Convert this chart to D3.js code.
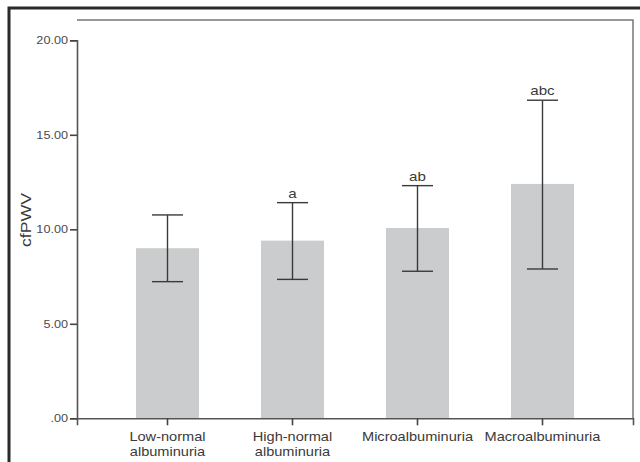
<!DOCTYPE html>
<html><head><meta charset="utf-8">
<script src="https://cdn.jsdelivr.net/npm/d3@7"></script>
<style>
html,body{margin:0;padding:0;background:#fff;}
svg{display:block;}
text{font-family:"Liberation Sans",Arial,sans-serif;}
</style></head>
<body>
<svg id="chart" width="640" height="462"></svg>
<script>
const categories = [["Low-normal","albuminuria"],["High-normal","albuminuria"],["Microalbuminuria"],["Macroalbuminuria"]];
const catKeys = ["Low-normal albuminuria","High-normal albuminuria","Microalbuminuria","Macroalbuminuria"];
const means = [9.00, 9.40, 10.07, 12.40];
const upper = [10.76, 11.41, 12.31, 16.83];
const lower = [7.23, 7.35, 7.78, 7.90];
const sigLabels = ["", "a", "ab", "abc"];
const yTicks = [0, 5, 10, 15, 20];
const yTickLabels = [".00", "5.00", "10.00", "15.00", "20.00"];
const yLabel = "cfPWV";

const svg = d3.select("#chart");
const L = 77, R = 633, T = 20, B = 418.3;
function widen(f){
  return sel => sel.each(function(){
    const w = this.getComputedTextLength();
    if (w>0) d3.select(this).attr("textLength", w*f).attr("lengthAdjust","spacingAndGlyphs");
  });
}

// outer frame
svg.append("path").attr("d", `M9,470 V8 H650`).attr("fill","none").attr("stroke","#2a2a2a").attr("stroke-width",3);

const y = d3.scaleLinear().domain([0,20]).range([B, 40.3]);
const x = d3.scaleBand().domain(catKeys).range([L, R]).paddingInner(0.496).paddingOuter(0.472);

// plot frame top & right
svg.append("path").attr("d", `M${L},${T} H${R} V${B}`).attr("fill","none").attr("stroke","#777").attr("stroke-width",1.5);

// bars
svg.append("g").selectAll("rect").data(means).join("rect")
  .attr("x",(d,i)=>x(catKeys[i])).attr("width",x.bandwidth())
  .attr("y",d=>y(d)).attr("height",d=>B-y(d))
  .attr("fill","#cbcccd");

// error bars
const eb = svg.append("g").attr("stroke","#3a3a3a").attr("stroke-width",1.4);
const cx = i => x(catKeys[i]) + x.bandwidth()/2;
const capW = 15.5;
means.forEach((m,i)=>{
  eb.append("line").attr("x1",cx(i)).attr("x2",cx(i)).attr("y1",y(upper[i])).attr("y2",y(lower[i]));
  eb.append("line").attr("x1",cx(i)-capW).attr("x2",cx(i)+capW).attr("y1",y(upper[i])).attr("y2",y(upper[i]));
  eb.append("line").attr("x1",cx(i)-capW).attr("x2",cx(i)+capW).attr("y1",y(lower[i])).attr("y2",y(lower[i]));
});

// significance labels
svg.append("g").selectAll("text").data(sigLabels).join("text")
  .attr("x",(d,i)=>cx(i)).attr("y",(d,i)=>y(upper[i])-5)
  .attr("text-anchor","middle").attr("font-size",13.5).attr("fill","#3a3a3a")
  .text(d=>d).call(widen(1.12));

// y axis
const yAxis = d3.axisLeft(y).tickValues(yTicks).tickFormat((d,i)=>yTickLabels[i]).tickSize(7).tickPadding(2);
const ga = svg.append("g").attr("transform",`translate(${L},0)`).call(yAxis);
ga.select(".domain").attr("stroke","#555").attr("stroke-width",1.6);
ga.selectAll(".tick line").attr("stroke","#444").attr("stroke-width",1.6);
ga.selectAll(".tick text").attr("font-size",11.5).attr("fill","#4a4a4a").attr("font-family","Liberation Sans, Arial, sans-serif").call(widen(1.1));

// x axis
const xAxis = d3.axisBottom(x).tickSize(7).tickFormat("");
const gx = svg.append("g").attr("transform",`translate(0,${B})`).call(xAxis);
gx.select(".domain").attr("stroke","#555").attr("stroke-width",1.6);
gx.selectAll(".tick line").attr("stroke","#444").attr("stroke-width",1.6);

// category labels
const cl = svg.append("g").attr("font-size",13.5).attr("fill","#3a3a3a").attr("text-anchor","middle");
categories.forEach((lines,i)=>{
  lines.forEach((ln,j)=>{
    cl.append("text").attr("x",cx(i)).attr("y", 441 + j*15).text(ln);
  });
});
cl.selectAll("text").call(widen(1.08));

// y label
svg.append("text").attr("transform",`translate(31,220) rotate(-90)`)
  .attr("text-anchor","middle").attr("font-size",14).attr("fill","#3a3a3a").text(yLabel)
  .call(s=>s.attr("textLength",54).attr("lengthAdjust","spacingAndGlyphs"));
</script>
</body></html>
